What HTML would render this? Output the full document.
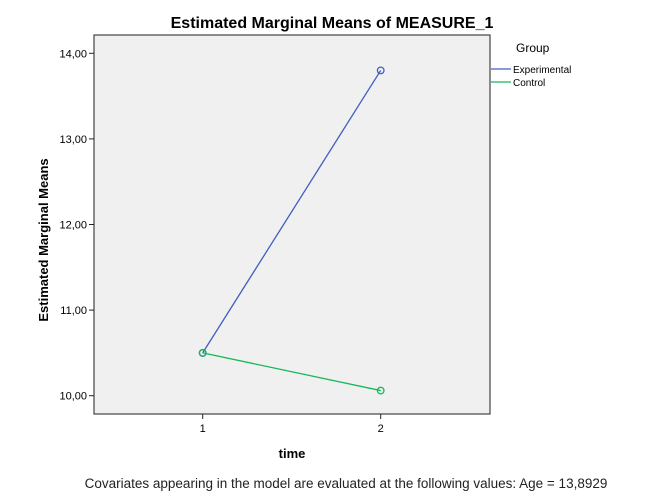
<!DOCTYPE html>
<html><head><meta charset="utf-8"><style>body{margin:0;background:#fff}svg{display:block;font-family:"Liberation Sans",sans-serif}</style></head>
<body>
<svg width="668" height="501">
<script>
const categories=["1","2"];
const yTicks=[10,11,12,13,14];
const yTickLabels=["10,00","11,00","12,00","13,00","14,00"];
const experimental=[10.50,13.80];
const control=[10.50,10.06];
</script>
<rect x="94" y="35" width="396" height="379" fill="#f0f0f0" stroke="#444" stroke-width="1.2"/>
<text x="332" y="28" text-anchor="middle" font-size="16" font-weight="bold">Estimated Marginal Means of MEASURE_1</text>
<text transform="translate(48,240) rotate(-90)" text-anchor="middle" font-size="13" font-weight="bold">Estimated Marginal Means</text>
<text x="292" y="458" text-anchor="middle" font-size="13" font-weight="bold">time</text>
<text x="346" y="488" text-anchor="middle" font-size="13.5" fill="#222">Covariates appearing in the model are evaluated at the following values: Age = 13,8929</text>
<g id="axes"></g>
<g id="marks"></g>
<text x="516" y="52" font-size="12">Group</text>
<line x1="491" y1="69" x2="511" y2="69" stroke="#3f5fbf" stroke-width="1.2"/>
<text x="513" y="73" font-size="10">Experimental</text>
<line x1="491" y1="82" x2="511" y2="82" stroke="#14b85a" stroke-width="1.2"/>
<text x="513" y="86" font-size="10">Control</text>
<script>
const NS="http://www.w3.org/2000/svg";
const xs=i=>202.7+i*178;
const ys=v=>395.7-(v-10)*85.6;
const axes=document.getElementById('axes'),marks=document.getElementById('marks');
function mk(tag,at,parent){const e=document.createElementNS(NS,tag);for(const k in at)e.setAttribute(k,at[k]);parent.appendChild(e);return e;}
yTicks.forEach((t,i)=>{
 const l=mk('line',{x1:89,x2:94,y1:ys(t),y2:ys(t),stroke:'#222'},axes);
 
 
 const tx=mk('text',{x:87,y:ys(t)+4,'text-anchor':'end','font-size':11},axes);
 tx.textContent=yTickLabels[i];
 
 
});
categories.forEach((c,i)=>{
 const l=mk('line',{x1:xs(i),x2:xs(i),y1:414,y2:419,stroke:'#222'},axes);
 
 
 const tx=mk('text',{x:xs(i),y:432,'text-anchor':'middle','font-size':11},axes);
 tx.textContent=c;
 
 
});
function series(vals,color,name){
 const p=mk('polyline',{points:vals.map((v,i)=>xs(i)+','+ys(v)).join(' '),fill:'none',stroke:color,'stroke-width':1.3},marks);
 
 
 vals.forEach((v,i)=>{
  const c=mk('circle',{cx:xs(i),cy:ys(v),r:3.3,fill:'none',stroke:color,'stroke-width':1.3},marks);
  
  
 });
}
series(experimental,'#3f5fbf','experimental');
series(control,'#14b85a','control');
</script>
</svg>
</body></html>
